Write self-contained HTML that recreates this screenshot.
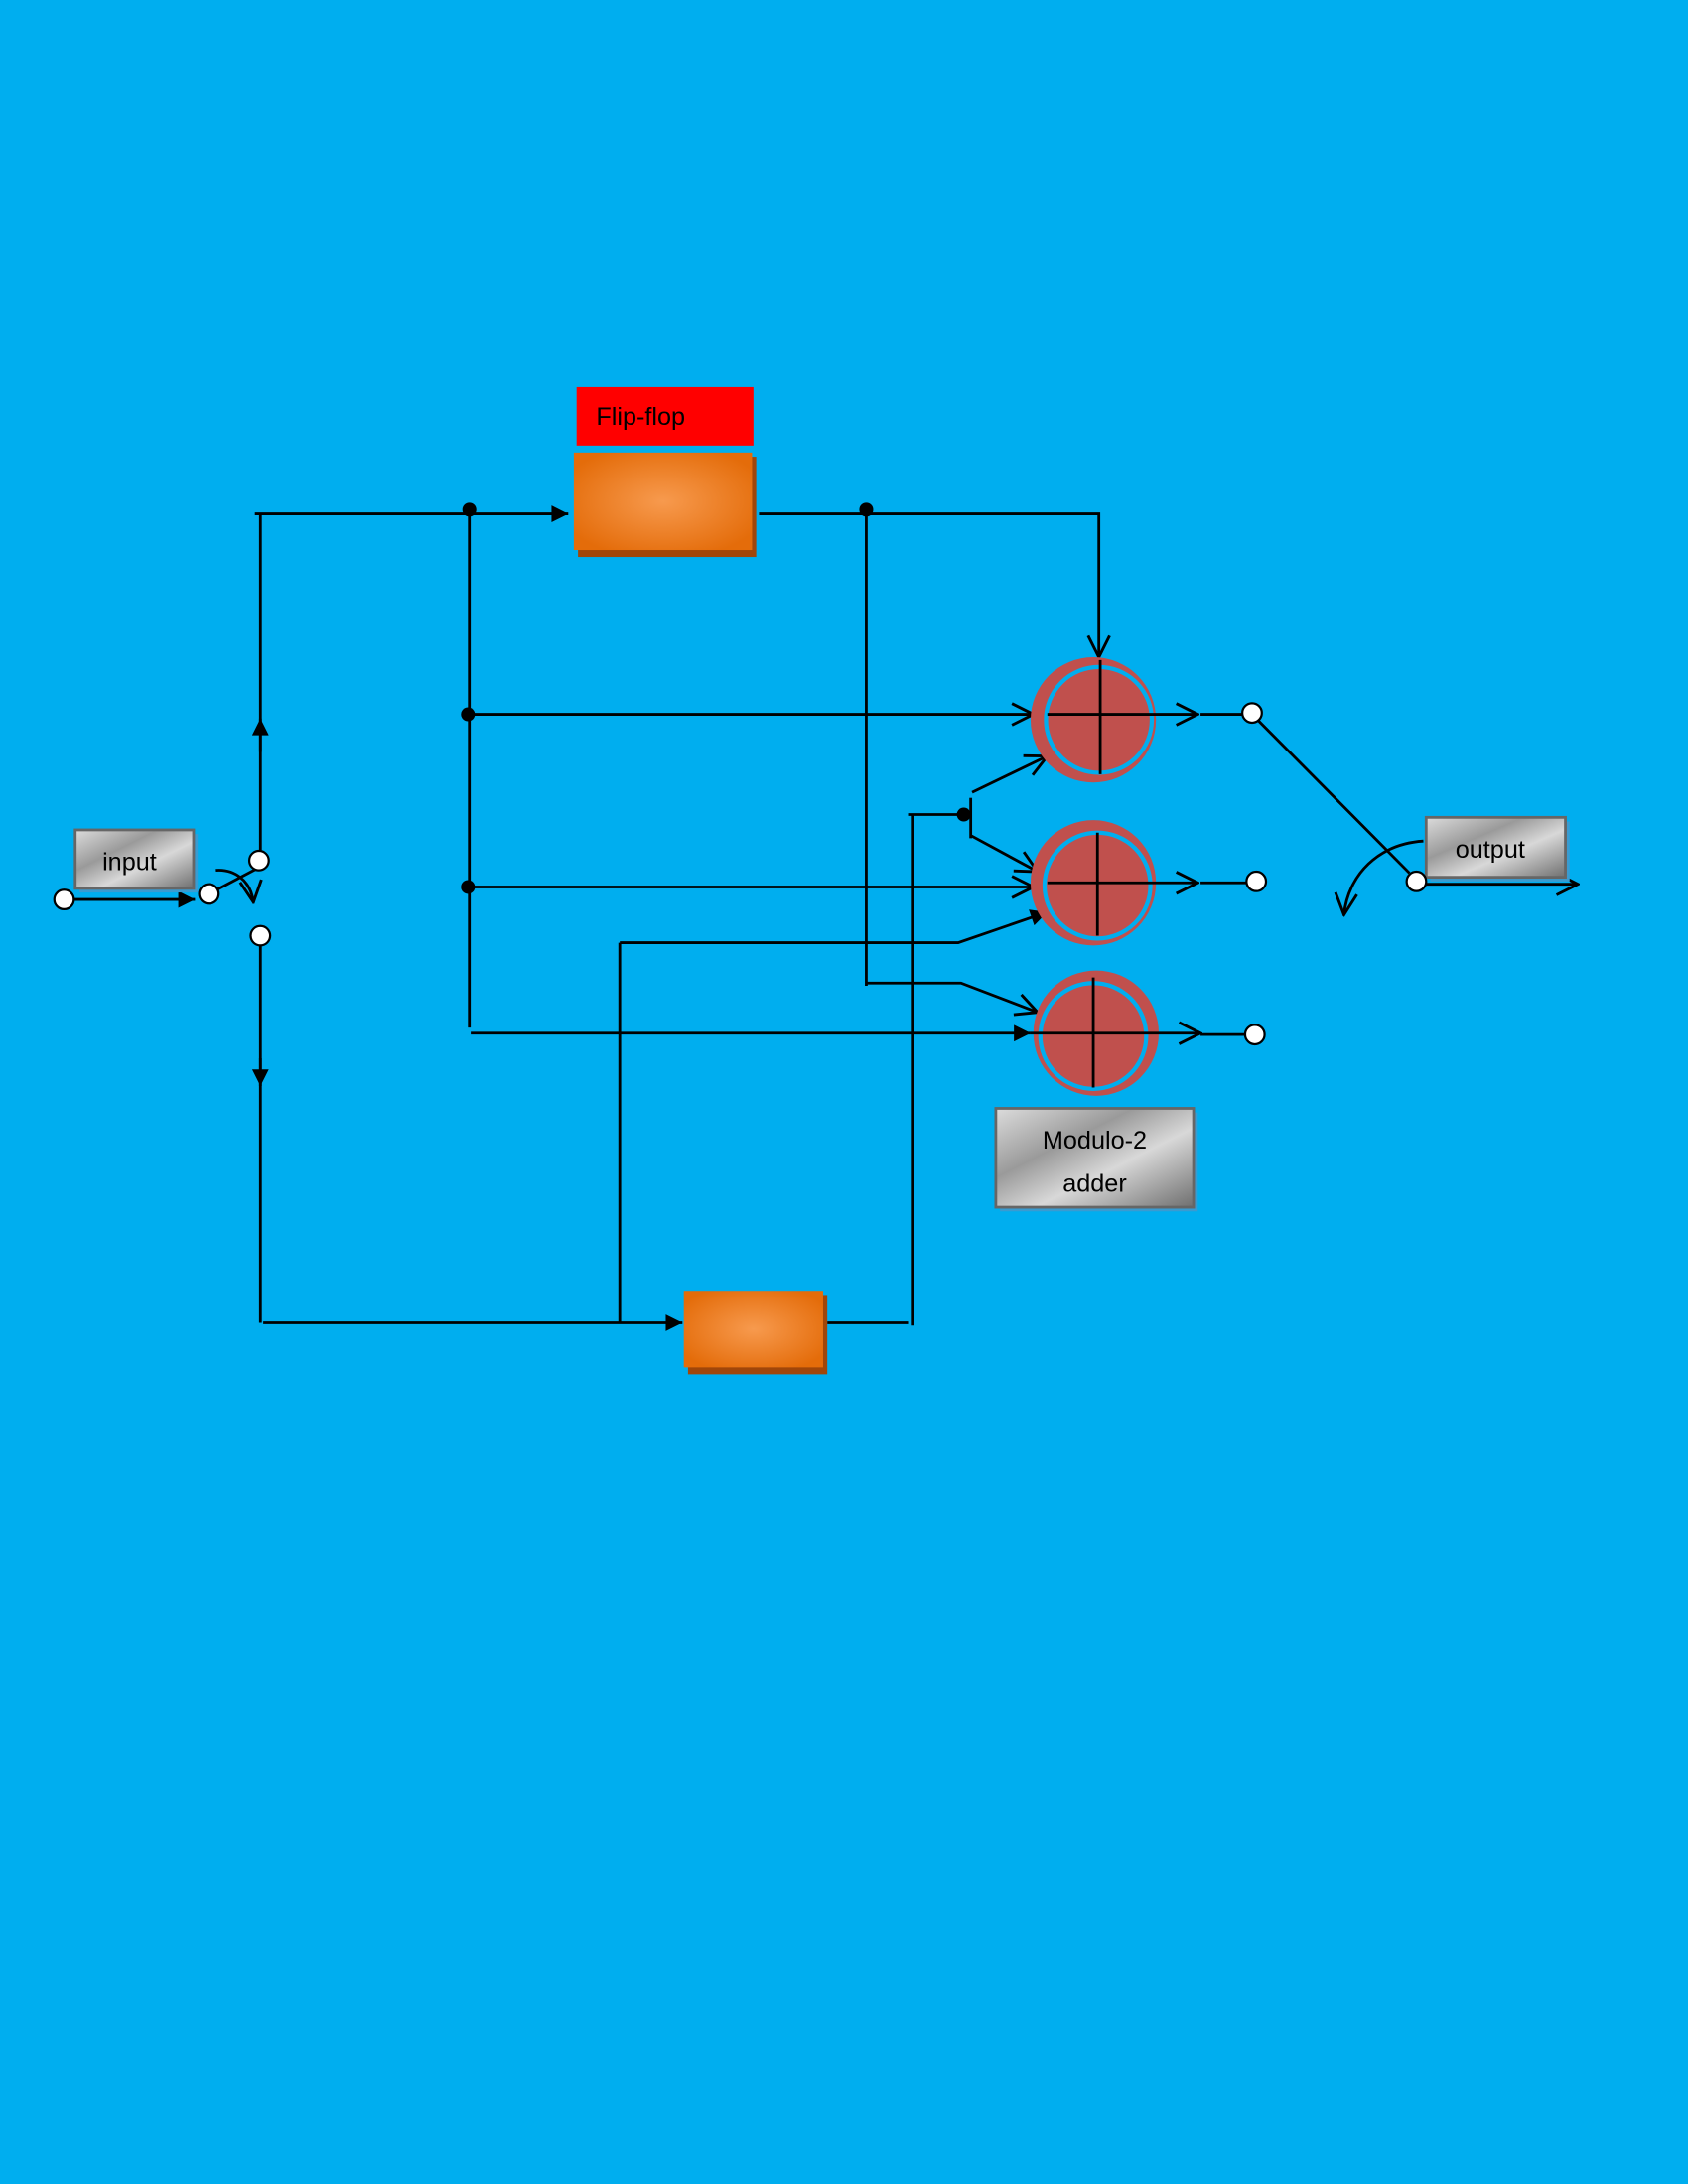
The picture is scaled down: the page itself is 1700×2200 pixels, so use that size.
<!DOCTYPE html>
<html><head><meta charset="utf-8"><style>
html,body{margin:0;padding:0;background:#00AEEF;}
svg{display:block}
text{font-family:"Liberation Sans","DejaVu Sans",sans-serif;}
</style></head><body>
<svg width="1700" height="2200" viewBox="0 0 1212 1568.5" xmlns="http://www.w3.org/2000/svg">
<defs>
<marker id="fa" viewBox="0 0 10 10" refX="10" refY="5" markerWidth="13" markerHeight="12" markerUnits="userSpaceOnUse" orient="auto"><path d="M0,0 L10,5 L0,10 z" fill="#000"/></marker>
<marker id="oa" viewBox="0 0 14 14" refX="13" refY="7" markerWidth="18" markerHeight="18" markerUnits="userSpaceOnUse" orient="auto"><path d="M1,1 L13,7 L1,13" fill="none" stroke="#000" stroke-width="1.6"/></marker>
<radialGradient id="og" cx="50%" cy="50%" r="60%"><stop offset="0" stop-color="#F79A4E"/><stop offset="1" stop-color="#E46C0A"/></radialGradient>
<linearGradient id="gg" x1="0" y1="0" x2="1" y2="1"><stop offset="0" stop-color="#dcdcdc"/><stop offset="0.35" stop-color="#9a9a9a"/><stop offset="0.6" stop-color="#d8d8d8"/><stop offset="1" stop-color="#6f6f6f"/></linearGradient>
</defs>
<rect width="1212" height="1568.5" fill="#00AEEF"/>
<g stroke="#000" stroke-width="2" fill="none">
<line x1="183" y1="369" x2="408" y2="369" marker-end="url(#fa)"/>
<line x1="337" y1="366" x2="337" y2="738"/>
<line x1="336" y1="513" x2="742" y2="513" marker-end="url(#oa)"/>
<line x1="336" y1="637" x2="742" y2="637" marker-end="url(#oa)"/>
<line x1="338" y1="742" x2="740" y2="742" marker-end="url(#fa)"/>
<line x1="187" y1="369" x2="187" y2="613"/>
<line x1="187" y1="540" x2="187" y2="516" marker-end="url(#fa)"/>
<line x1="187" y1="678" x2="187" y2="950"/>
<line x1="187" y1="760" x2="187" y2="780" marker-end="url(#fa)"/>
<line x1="189" y1="950" x2="490" y2="950" marker-end="url(#fa)"/>
<polyline points="545,369 789,369 789,472" marker-end="url(#oa)"/>
<line x1="622" y1="366" x2="622" y2="708"/>
<polyline points="622,706 690,706 745,727" marker-end="url(#oa)"/>
<line x1="445" y1="677" x2="445" y2="950"/>
<polyline points="445,677 688,677 752,655" marker-end="url(#fa)"/>
<line x1="655" y1="585" x2="655" y2="952"/>
<line x1="594" y1="950" x2="652" y2="950"/>
<line x1="652" y1="585" x2="692" y2="585"/>
<line x1="697" y1="573" x2="697" y2="602"/>
<line x1="698" y1="569" x2="752" y2="543" marker-end="url(#oa)"/>
<line x1="697" y1="600" x2="745" y2="626" marker-end="url(#oa)"/>
</g>
<g fill="#000"><circle cx="337" cy="366" r="5"/><circle cx="336" cy="513" r="5"/><circle cx="336" cy="637" r="5"/><circle cx="622" cy="366" r="5"/><circle cx="692" cy="585" r="5"/></g>
<rect x="414" y="278" width="127" height="42" fill="#FF0000"/>
<text x="428" y="305" font-size="18">Flip-flop</text>
<rect x="415" y="328" width="128" height="72" fill="#A0460A"/>
<rect x="412" y="325" width="128" height="70" fill="url(#og)"/>
<rect x="494" y="930" width="100" height="57" fill="#A0460A"/>
<rect x="491" y="927" width="100" height="55" fill="url(#og)"/>
<g>
<circle cx="785" cy="517" r="45" fill="#C0504D"/><circle cx="789" cy="517" r="38" fill="#C0504D" stroke="#00AEEF" stroke-width="3"/>
<circle cx="785" cy="634" r="45" fill="#C0504D"/><circle cx="788" cy="636" r="38" fill="#C0504D" stroke="#00AEEF" stroke-width="3"/>
<circle cx="787" cy="742" r="45" fill="#C0504D"/><circle cx="785" cy="744" r="38" fill="#C0504D" stroke="#00AEEF" stroke-width="3"/>
</g>
<g stroke="#000" stroke-width="2" fill="none">
<line x1="790" y1="474" x2="790" y2="556"/>
<line x1="788" y1="598" x2="788" y2="672"/>
<line x1="785" y1="702" x2="785" y2="781"/>
<line x1="752" y1="513" x2="860" y2="513" marker-end="url(#oa)"/>
<line x1="752" y1="634" x2="860" y2="634" marker-end="url(#oa)"/>
<line x1="740" y1="742" x2="862" y2="742" marker-end="url(#oa)"/>
<line x1="862" y1="513" x2="893" y2="513"/>
<line x1="862" y1="634" x2="895" y2="634"/>
<line x1="862" y1="743" x2="894" y2="743"/>
<line x1="903" y1="517" x2="1012" y2="627"/>
<line x1="1022" y1="635" x2="1133" y2="635" marker-end="url(#oa)"/>
<path d="M1022,604 C990,606 968,628 965,657" marker-end="url(#oa)"/>
<line x1="46" y1="646" x2="140" y2="646" marker-end="url(#fa)"/>
<line x1="150" y1="642" x2="186" y2="623"/>
<path d="M155,625 C168,624 180,632 182,648" marker-end="url(#oa)"/>
</g>
<g fill="#fff" stroke="#000" stroke-width="1.6">
<circle cx="899" cy="512" r="7"/><circle cx="902" cy="633" r="7"/><circle cx="901" cy="743" r="7"/>
<circle cx="46" cy="646" r="7"/><circle cx="150" cy="642" r="7"/><circle cx="186" cy="618" r="7"/><circle cx="187" cy="672" r="7"/>
</g>
<rect x="57" y="599" width="85" height="42" fill="#3A9BD0"/>
<rect x="54" y="596" width="85" height="42" fill="url(#gg)" stroke="#666" stroke-width="2"/>
<text x="93" y="625" font-size="18" text-anchor="middle">input</text>
<rect x="1027" y="590" width="100" height="43" fill="#3A9BD0"/>
<rect x="1024" y="587" width="100" height="43" fill="url(#gg)" stroke="#666" stroke-width="2"/>
<text x="1070" y="616" font-size="18" text-anchor="middle">output</text>
<rect x="718" y="799" width="142" height="71" fill="#3A9BD0"/>
<rect x="715" y="796" width="142" height="71" fill="url(#gg)" stroke="#666" stroke-width="2"/>
<text x="786" y="825" font-size="18" text-anchor="middle">Modulo-2</text>
<text x="786" y="856" font-size="18" text-anchor="middle">adder</text>
<circle cx="1017" cy="633" r="7" fill="#fff" stroke="#000" stroke-width="1.6"/>
</svg>
</body></html>
